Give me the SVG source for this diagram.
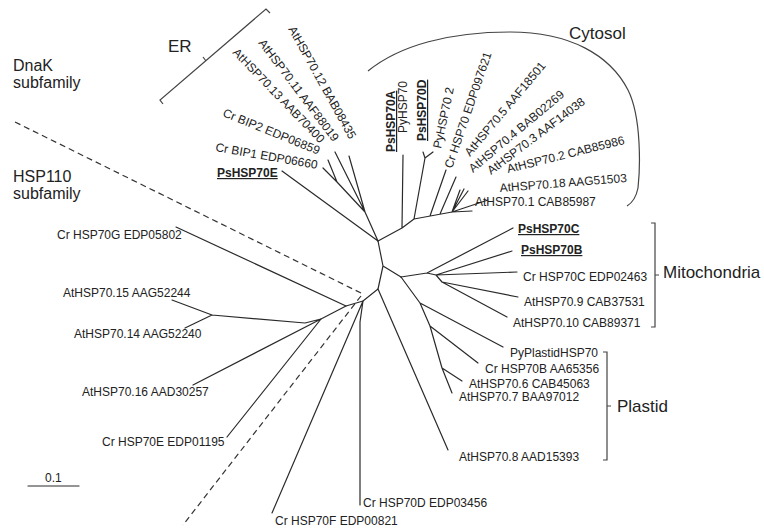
<svg xmlns="http://www.w3.org/2000/svg" width="764" height="528" viewBox="0 0 764 528">
<style>
text{font-family:"Liberation Sans",Arial,sans-serif;font-size:12px;fill:#222}
.b{font-weight:bold;text-decoration:underline}
.big{font-size:17px}
.mid{font-size:16px}
.br{fill:none;stroke:#2a2a2a;stroke-width:1.2;stroke-linecap:round;stroke-linejoin:round}
.dash{fill:none;stroke:#333;stroke-width:1.2;stroke-dasharray:6,4}
.brk{fill:none;stroke:#444;stroke-width:1.2}
</style>
<rect width="764" height="528" fill="#fff"/>
<g id="connectors">
<path class="br" d="M378,241 L383,266 M383,266 L378,289 M378,289 L363,301 M363,301 L346,306 M346,306 L321,319 M383,266 L401,277"/>
<path class="br" d="M321,319 L305,323 L212,315 M212,315 L172,300 M212,315 L185,328 M321,319 L193,385 M321,319 L227,437 M346,306 L176,227 M363,301 L272,513 M363,301 L360,322 L360,505 M378,289 L448,450"/>
<path class="br" d="M378,241 L282,171 M378,241 L365,212 M365,212 L337,182 M337,182 L323,168 M337,182 L328,160 M365,212 L335,152 M365,212 L349,156"/>
<path class="br" d="M378,241 L402,228 M402,228 L403,155 M402,228 L414,219 M414,219 L425,158 M425,158 L423,152 M425,158 L433,152 M414,219 L452,212 L472,211 M430,216 L446,170 M440,214 L456,177 M452,212 L460,190 M452,212 L464,189 M452,212 L468,191 M452,212 L488,200"/>
<path class="br" d="M401,277 L427,273 M427,273 L513,228 M427,273 L436,275 M436,275 L512,251 M436,275 L517,272 M436,275 L442,282 M442,282 L518,297 M442,282 L507,317"/>
<path class="br" d="M401,277 L420,303 M420,303 L503,347 M420,303 L430,326 M430,326 L478,363 M430,326 L442,368 M442,368 L462,381 M442,368 L452,393"/>
<path class="dash" d="M15,122 L361,293 M361,296 L183,525"/>
<path class="br" d="M28,486 L79,486"/>
</g>
<g id="brackets">
<path class="brk" d="M163,104 L160,100 L266,9 L270,13 M206,61 L203,57"/>
<path class="brk" d="M368,71 C400,45 450,32 510,32 C570,32 610,55 628,90 C642,118 640,170 638,188 C636,198 632,203 627,206"/>
<path class="brk" d="M651,223 L655,223 L655,327 L651,327 M655,275 L659,275"/>
<path class="brk" d="M603,352 L607,352 L607,460 L603,460 M607,406 L611,406"/>
</g>
<g id="group-labels">
<text class="mid" x="13" y="71">DnaK</text>
<text class="mid" x="13" y="88">subfamily</text>
<text class="mid" x="13" y="182">HSP110</text>
<text class="mid" x="13" y="199">subfamily</text>
<text class="big" x="168" y="52">ER</text>
<text class="big" x="569" y="39">Cytosol</text>
<text class="big" x="663" y="278">Mitochondria</text>
<text class="big" x="617" y="412">Plastid</text>
<text x="45" y="482">0.1</text>
</g>
<g id="n-PsHSP70A"><text class="b" transform="translate(395,152) rotate(-90)">PsHSP70A</text></g>
<g id="n-PyHSP70"><text transform="translate(407,133) rotate(-90)">PyHSP70</text></g>
<g id="n-PsHSP70D"><text class="b" transform="translate(426,141) rotate(-90)">PsHSP70D</text></g>
<g id="n-PyHSP70-2"><text transform="translate(441,149) rotate(-78)">PyHSP70 2</text></g>
<g id="n-CrHSP70"><text transform="translate(452,169) rotate(-71)">Cr HSP70 EDP097621</text></g>
<g id="n-AtHSP70-5"><text transform="translate(470,157) rotate(-50)">AtHSP70.5 AAF18501</text></g>
<g id="n-AtHSP70-4"><text transform="translate(473,173) rotate(-40)">AtHSP70.4 BAB02269</text></g>
<g id="n-AtHSP70-3"><text transform="translate(491,175) rotate(-37)">AtHSP70.3 AAF14038</text></g>
<g id="n-AtHSP70-2"><text transform="translate(508,173) rotate(-14)">AtHSP70.2 CAB85986</text></g>
<g id="n-AtHSP70-18"><text transform="translate(500,192) rotate(-4.5)">AtHSP70.18 AAG51503</text></g>
<g id="n-AtHSP70-1"><text x="475" y="206">AtHSP70.1 CAB85987</text></g>
<g id="n-AtHSP70-12"><text transform="translate(288,29) rotate(61)">AtHSP70.12 BAB08435</text></g>
<g id="n-AtHSP70-11"><text transform="translate(258,43) rotate(53)">AtHSP70.11 AAF88019</text></g>
<g id="n-AtHSP70-13"><text transform="translate(232,53) rotate(46)">AtHSP70.13 AAB70400</text></g>
<g id="n-CrBIP2"><text transform="translate(222,116) rotate(22)">Cr BIP2 EDP06859</text></g>
<g id="n-CrBIP1"><text transform="translate(215,151) rotate(10)">Cr BIP1 EDP06660</text></g>
<g id="n-PsHSP70E"><text class="b" x="217" y="177">PsHSP70E</text></g>
<g id="n-CrHSP70G"><text x="57" y="239">Cr HSP70G EDP05802</text></g>
<g id="n-AtHSP70-15"><text x="63" y="297">AtHSP70.15 AAG52244</text></g>
<g id="n-AtHSP70-14"><text x="74" y="338">AtHSP70.14 AAG52240</text></g>
<g id="n-AtHSP70-16"><text x="82" y="396">AtHSP70.16 AAD30257</text></g>
<g id="n-CrHSP70E"><text x="102" y="446">Cr HSP70E EDP01195</text></g>
<g id="n-CrHSP70F"><text x="275" y="525">Cr HSP70F EDP00821</text></g>
<g id="n-CrHSP70D"><text x="363" y="507">Cr HSP70D EDP03456</text></g>
<g id="n-PsHSP70C"><text class="b" x="518" y="233">PsHSP70C</text></g>
<g id="n-PsHSP70B"><text class="b" x="521" y="254">PsHSP70B</text></g>
<g id="n-CrHSP70C"><text x="523" y="281">Cr HSP70C EDP02463</text></g>
<g id="n-AtHSP70-9"><text x="524" y="306">AtHSP70.9 CAB37531</text></g>
<g id="n-AtHSP70-10"><text x="513" y="327">AtHSP70.10 CAB89371</text></g>
<g id="n-PyPlastidHSP70"><text x="510" y="357">PyPlastidHSP70</text></g>
<g id="n-CrHSP70B"><text x="485" y="373">Cr HSP70B AA65356</text></g>
<g id="n-AtHSP70-6"><text x="469" y="388">AtHSP70.6 CAB45063</text></g>
<g id="n-AtHSP70-7"><text x="459" y="401">AtHSP70.7 BAA97012</text></g>
<g id="n-AtHSP70-8"><text x="459" y="461">AtHSP70.8 AAD15393</text></g>
</svg>
